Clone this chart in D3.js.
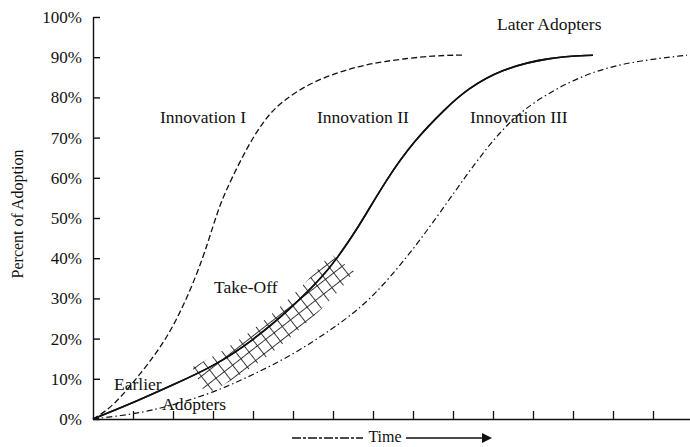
<!DOCTYPE html>
<html><head><meta charset="utf-8">
<script src="https://cdn.jsdelivr.net/npm/d3@7"></script>
<style>
body{margin:0;background:#fff}
svg{display:block;background:#fff}
text{font-family:"Liberation Serif","DejaVu Serif",serif;fill:#111}
</style>
</head><body>
<svg id="chart" width="690" height="447"></svg>
<script>
// ---- data ----
const yTickValues = [0, 10, 20, 30, 40, 50, 60, 70, 80, 90, 100];
const yTickLabels = ["0%", "10%", "20%", "30%", "40%", "50%", "60%", "70%", "80%", "90%", "100%"];
const xTickValues = [1, 2, 3, 4, 5, 6, 7, 8, 9, 10, 11, 12, 13, 14];

const innovationI_time = [0, 0.5, 1.25, 1.85, 2.35, 2.75, 3.0, 3.2, 3.45, 3.85, 4.25, 4.7, 5.5, 6.35, 7.2, 8.6, 9.3];
const innovationI_pct  = [0, 3, 12, 20, 30, 40, 48, 54, 59.5, 67.5, 74, 79, 84, 87, 89, 90.5, 90.5];

const innovationII_time = [0, 1, 2, 3, 4, 5, 5.75, 6.1, 6.45, 6.8, 7.3, 8, 8.85, 9.35, 10.2, 11.4, 12.5];
const innovationII_pct  = [0, 4, 8.5, 13, 19.5, 28, 35.5, 40, 45, 50.5, 59, 69, 77.6, 82, 87, 90, 90.5];

const innovationIII_time = [0, 1, 1.6, 2, 3, 4, 5, 6, 6.6, 7.2, 8.2, 9.35, 10.2, 11, 12.3, 13.5, 14.85];
const innovationIII_pct  = [0, 1.2, 2.5, 3.5, 6.5, 11, 16, 22.5, 27, 32.5, 44.5, 61, 72, 79, 86, 89, 90.5];

const takeOffRange = [2.55, 6.1]; // time span of the hatched take-off band on Innovation II

const curveLabels = ["Innovation I", "Innovation II", "Innovation III"];

// ---- layout ----
const svg = d3.select("#chart");
const x = d3.scaleLinear().domain([0, 15]).range([93, 693]);
const y = d3.scaleLinear().domain([0, 100]).range([419, 17]);
const ink = "#111";

const zip = (ts, ps) => ts.map((t, i) => ({t, p: ps[i]}));
const line = d3.line().x(d => x(d.t)).y(d => y(d.p)).curve(d3.curveBasis);

// axes
const yAxis = d3.axisLeft(y).tickValues(yTickValues)
  .tickFormat((d, i) => yTickLabels[i]).tickSizeInner(-7).tickSizeOuter(0).tickPadding(11);
const gy = svg.append("g").attr("transform", `translate(${x(0)},0)`).call(yAxis);
gy.selectAll("text").style("font-size", "17px").attr("fill", ink);
gy.selectAll("line, path").attr("stroke", ink).attr("stroke-width", 1.4);

const xAxis = d3.axisBottom(x).tickValues(xTickValues).tickFormat("").tickSizeInner(-8).tickSizeOuter(0);
const gx = svg.append("g").attr("transform", `translate(0,${y(0)})`).call(xAxis);
gx.selectAll("line, path").attr("stroke", ink).attr("stroke-width", 1.3);

// hatch pattern
const defs = svg.append("defs");
defs.append("pattern").attr("id", "grid").attr("patternUnits", "userSpaceOnUse")
  .attr("width", 10.5).attr("height", 10.5).attr("patternTransform", "rotate(-38)")
  .append("path").attr("d", "M0,0.5H10.5M0.5,0V10.5").attr("stroke", "#222").attr("stroke-width", 0.9).attr("fill", "none");

// curves
const dI = zip(innovationI_time, innovationI_pct);
const dII = zip(innovationII_time, innovationII_pct);
const dIII = zip(innovationIII_time, innovationIII_pct);

svg.append("path").datum(dI).attr("d", line).attr("fill", "none")
  .attr("stroke", ink).attr("stroke-width", 1.3).attr("stroke-dasharray", "6,3");
const pII = svg.append("path").datum(dII).attr("d", line).attr("fill", "none")
  .attr("stroke", ink).attr("stroke-width", 1.6);
svg.append("path").datum(dIII).attr("d", line).attr("fill", "none")
  .attr("stroke", ink).attr("stroke-width", 1.2).attr("stroke-dasharray", "6,3,1.5,3");

// take-off band following Innovation II
const node = pII.node();
const L = node.getTotalLength();
const x0 = x(takeOffRange[0]), x1 = x(takeOffRange[1]);
const upper = [], lower = [];
for (let s = 0; s <= L; s += 2) {
  const p = node.getPointAtLength(s);
  if (p.x < x0 || p.x > x1) continue;
  const a = node.getPointAtLength(Math.max(0, s - 1.5)), b = node.getPointAtLength(Math.min(L, s + 1.5));
  let tx = b.x - a.x, ty = b.y - a.y; const n = Math.hypot(tx, ty) || 1; tx /= n; ty /= n;
  const nx = ty, ny = -tx; // normal pointing up-left
  upper.push([p.x + nx * 8, p.y + ny * 8]);
  lower.push([p.x - nx * 22, p.y - ny * 22]);
}
const band = upper.concat(lower.reverse());
defs.append("clipPath").attr("id", "bandClip").append("polygon").attr("points", band.map(d => d.join(",")).join(" "));
svg.append("rect").attr("x", x0 - 40).attr("y", y(45)).attr("width", x1 - x0 + 80).attr("height", y(0) - y(45))
  .attr("fill", "url(#grid)").attr("clip-path", "url(#bandClip)");
// redraw the curve on top of the band
svg.append("path").datum(dII).attr("d", line).attr("fill", "none")
  .attr("stroke", ink).attr("stroke-width", 1.6);

// labels
const lab = (t, px, py, size = 17.5) => svg.append("text").attr("x", px).attr("y", py)
  .style("font-size", size + "px").text(t);
lab(curveLabels[0], 160, 123);
lab(curveLabels[1], 317, 123);
lab(curveLabels[2], 470, 123);
lab("Later Adopters", 497, 30);
lab("Take-Off", 214, 293);
lab("Earlier", 114, 390);
lab("Adopters", 162, 410);

svg.append("text").attr("transform", "translate(23,214) rotate(-90)")
  .attr("text-anchor", "middle").style("font-size", "16px").text("Percent of Adoption");

// time axis title with arrows
svg.append("text").attr("x", 385).attr("y", 442).attr("text-anchor", "middle").style("font-size", "16px").text("Time");
svg.append("line").attr("x1", 292).attr("x2", 363).attr("y1", 438).attr("y2", 438)
  .attr("stroke", ink).attr("stroke-width", 1.3).attr("stroke-dasharray", "9,2,3,2");
svg.append("line").attr("x1", 406).attr("x2", 484).attr("y1", 438).attr("y2", 438)
  .attr("stroke", ink).attr("stroke-width", 1.3);
svg.append("path").attr("d", "M482,433L492,438L482,443Z").attr("fill", ink);
</script>
</body></html>
